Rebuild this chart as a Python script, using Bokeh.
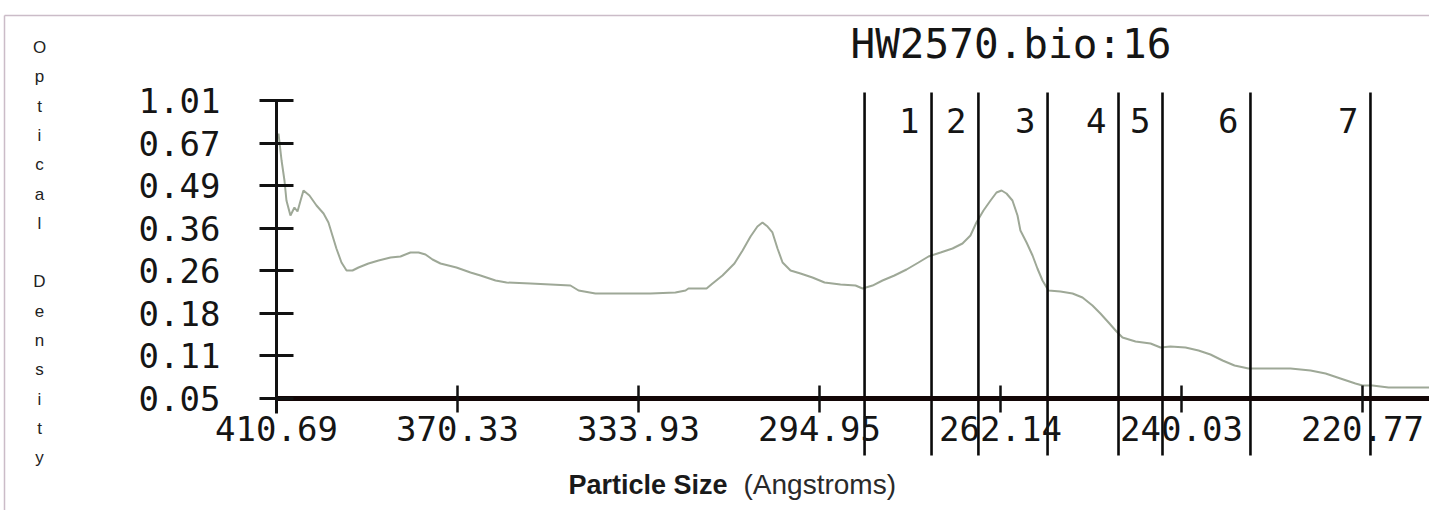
import numpy as np
from bokeh.plotting import figure
from bokeh.models import Range1d, FixedTicker
from bokeh.core.properties import value
from bokeh.embed import file_html
from bokeh.resources import INLINE

# ---------------- data (axis positions are tick-index units) ----------------
x_tick_labels = ["410.69", "370.33", "333.93", "294.95", "262.14", "240.03", "220.77"]
y_tick_labels = ["0.05", "0.11", "0.18", "0.26", "0.36", "0.49", "0.67", "1.01"]

curve_x = [0.011, 0.028, 0.044, 0.055, 0.077, 0.099, 0.116, 0.133, 0.149, 0.182,
           0.221, 0.260, 0.287, 0.309, 0.331, 0.359, 0.387, 0.420, 0.453, 0.508,
           0.564, 0.630, 0.685, 0.740, 0.785, 0.823, 0.862, 0.906, 0.994, 1.072,
           1.127, 1.210, 1.271, 1.403, 1.514, 1.624, 1.669, 1.762, 1.901, 2.066,
           2.204, 2.260, 2.276, 2.376, 2.409, 2.464, 2.530, 2.575, 2.619, 2.657,
           2.685, 2.713, 2.740, 2.768, 2.796, 2.840, 2.895, 2.961, 3.028, 3.116,
           3.199, 3.238, 3.293, 3.348, 3.414, 3.481, 3.547, 3.602, 3.669, 3.735,
           3.790, 3.834, 3.867, 3.906, 3.945, 3.978, 4.006, 4.033, 4.066, 4.094,
           4.110, 4.144, 4.177, 4.204, 4.232, 4.265, 4.331, 4.398, 4.453, 4.508,
           4.552, 4.597, 4.641, 4.674, 4.746, 4.829, 4.884, 4.939, 5.022, 5.094,
           5.160, 5.227, 5.293, 5.370, 5.464, 5.602, 5.713, 5.796, 5.878, 5.961,
           6.000, 6.055, 6.144, 6.370]
curve_y = [6.225, 5.591, 5.121, 4.651, 4.299, 4.487, 4.393, 4.651, 4.886, 4.769,
           4.534, 4.346, 4.134, 3.829, 3.524, 3.195, 3.007, 3.007, 3.077, 3.171,
           3.242, 3.312, 3.336, 3.430, 3.430, 3.383, 3.265, 3.171, 3.077, 2.960,
           2.889, 2.772, 2.725, 2.701, 2.678, 2.654, 2.537, 2.467, 2.467, 2.467,
           2.490, 2.537, 2.584, 2.584, 2.701, 2.889, 3.171, 3.477, 3.806, 4.040,
           4.134, 4.040, 3.900, 3.524, 3.195, 3.007, 2.936, 2.842, 2.725, 2.678,
           2.654, 2.584, 2.654, 2.772, 2.889, 3.030, 3.195, 3.336, 3.430, 3.524,
           3.641, 3.829, 4.134, 4.416, 4.651, 4.839, 4.886, 4.816, 4.651, 4.299,
           3.946, 3.665, 3.359, 3.054, 2.772, 2.537, 2.514, 2.467, 2.373, 2.185,
           1.997, 1.785, 1.574, 1.433, 1.339, 1.292, 1.198, 1.222, 1.198, 1.128,
           1.034, 0.893, 0.775, 0.705, 0.705, 0.705, 0.658, 0.587, 0.470, 0.352,
           0.305, 0.305, 0.258, 0.258]

fraction_bounds = [3.249, 3.619, 3.878, 4.260, 4.652, 4.895, 5.381, 6.044]
fraction_labels = ["1", "2", "3", "4", "5", "6", "7"]

title_text = "HW2570.bio:16"
y_label_text = "Optical Density"
x_label_bold = "Particle Size"
x_label_unit = "(Angstroms)"

# ---------------- figure ----------------
W, H = 1429, 510
# pixel -> axis-unit mapping (axis origin at 276,398; 181 px per x tick, 42.57 px per y tick)
X0, X1 = (0 - 276) / 181.0, (W - 276) / 181.0
Y1, Y0 = (398 - 0) / 42.57, (398 - H) / 42.57

p = figure(width=W, height=H, x_range=Range1d(X0, X1), y_range=Range1d(Y0, Y1),
           toolbar_location=None, output_backend="svg", min_border=0,
           outline_line_color=None, background_fill_color="white",
           border_fill_color="white")
p.xgrid.visible = False
p.ygrid.visible = False

MONO = "DejaVu Sans Mono"

def sx(px):
    return (px - 276) / 181.0

def sy(py):
    return (398 - py) / 42.57

# x axis
xa = p.xaxis[0]
xa.fixed_location = 0
xa.bounds = (0, X1 + 0.1)
xa.ticker = FixedTicker(ticks=list(range(len(x_tick_labels))))
xa.major_label_overrides = {i: t for i, t in enumerate(x_tick_labels)}
xa.axis_line_width = 5
xa.axis_line_color = "#120606"
xa.major_tick_in = 13
xa.major_tick_out = 14
xa.major_tick_line_width = 2.5
xa.major_tick_line_color = "#111111"
xa.minor_tick_line_color = None
xa.major_label_text_font = MONO
xa.major_label_text_font_size = "34px"
xa.major_label_text_color = "#151515"
xa.major_label_standoff = 3

# y axis
ya = p.yaxis[0]
ya.fixed_location = 0
ya.bounds = (-0.35, len(y_tick_labels) - 1)
ya.ticker = FixedTicker(ticks=list(range(len(y_tick_labels))))
ya.major_label_overrides = {i: t for i, t in enumerate(y_tick_labels)}
ya.axis_line_width = 3
ya.axis_line_color = "#111111"
ya.major_tick_in = 17
ya.major_tick_out = 17
ya.major_tick_line_width = 3
ya.major_tick_line_color = "#111111"
ya.minor_tick_line_color = None
ya.major_label_text_font = MONO
ya.major_label_text_font_size = "34px"
ya.major_label_text_color = "#151515"
ya.major_label_standoff = 39

# page frame (scan border)
bx, by = sx(4), sy(15)
p.line([bx, bx], [Y0, by], line_color="#cbbcc8", line_width=1.5)
p.line([bx, X1], [by, by], line_color="#cbbcc8", line_width=1.5)

# density curve
p.line(curve_x, curve_y, line_color="#9ea897", line_width=2)

# fraction boundary lines
top_y, bot_y = sy(92), sy(455)
p.segment(x0=fraction_bounds, y0=[bot_y] * len(fraction_bounds),
          x1=fraction_bounds, y1=[top_y] * len(fraction_bounds),
          line_color="#0a0a0a", line_width=2.6)

# fraction numbers, right-aligned inside each fraction
p.text(x=fraction_bounds[1:], y=[sy(120)] * len(fraction_labels), text=fraction_labels,
       x_offset=-12, text_align="right", text_baseline="middle",
       text_font=value(MONO), text_font_size="34px", text_color="#151515")

# title
p.text(x=[sx(850)], y=[sy(43)], text=[title_text], text_align="left",
       text_baseline="middle", text_font=value(MONO), text_font_size="41px",
       text_color="#151515")

# vertical y-axis label, one letter per line
letters = list(y_label_text)
ly = [sy(47 + i * 29.3) for i in range(len(letters))]
p.text(x=[sx(39)] * len(letters), y=ly, text=letters, text_align="center",
       text_baseline="middle", text_font=value("Liberation Sans"),
       text_font_size="17px", text_color="#222222")

# x-axis title
p.text(x=[sx(568)], y=[sy(484)], text=[x_label_bold], text_align="left",
       text_baseline="middle", text_font=value("Liberation Sans"),
       text_font_style="bold", text_font_size="27px", text_color="#1a1a1a")
p.text(x=[sx(743)], y=[sy(484)], text=[x_label_unit], text_align="left",
       text_baseline="middle", text_font=value("Liberation Sans"),
       text_font_size="28px", text_color="#2a2a2a")

open("out.html", "w").write(file_html(p, INLINE))
